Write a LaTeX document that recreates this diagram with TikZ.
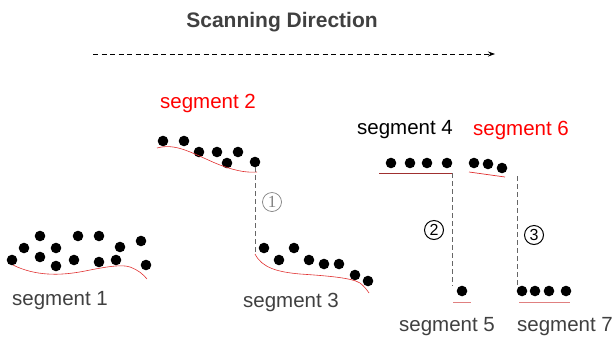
\documentclass[tikz,border=0pt]{standalone}
\usepackage{fontspec}
\setmainfont{Liberation Sans}
\newfontfamily\serifnum{Liberation Serif}
\usetikzlibrary{arrows.meta}
\definecolor{txtgray}{HTML}{404040}
\definecolor{curvered}{HTML}{E03030}
\definecolor{darkred}{HTML}{A03030}
\definecolor{lightred}{HTML}{E08080}
\tikzset{
  seglabel/.style={font=\fontsize{20.5}{24}\selectfont, text=txtgray, inner sep=0pt},
  redlabel/.style={seglabel, text=red},
  pt/.style={fill=black},
  trace/.style={curvered, line width=0.6pt},
  jump/.style={gray!80!black, dash pattern=on 5pt off 3pt, line width=0.7pt},
  stepnum/.style={draw, circle, minimum size=19pt, inner sep=0pt, line width=1pt,
    font=\fontsize{16}{18}\selectfont}
}
\begin{document}
\begin{tikzpicture}[x=1pt,y=-1pt]
\useasboundingbox (0,0) rectangle (615,341);

% title and scanning arrow
\node[font=\fontsize{21}{24}\selectfont\bfseries, text=txtgray, inner sep=0pt] (title) at (282,22) {Scanning Direction};
\coordinate (scanA) at (93,54);
\coordinate (scanB) at (495,54);
\draw[black, dash pattern=on 5pt off 3.5pt, line width=0.7pt, -{Stealth[length=7pt,width=5pt]}] (scanA) -- (scanB);

% segment 1
\foreach \x/\y in {12/260,24/248,40/236,40/257,56/248,56/266,74/260,78/236,99/236,99/262,116/260,120/247,141/241,146/265}
  \fill[pt] (\x,\y) circle (5.3);
\draw[trace] (13,265) .. controls (35,276) and (60,276) .. (85,271)
  .. controls (105,267) and (122,264) .. (130,267) .. controls (138,270) and (143,274) .. (147,279);
\node[seglabel] (s1) at (60,301) {segment 1};

% segment 2
\foreach \x/\y in {163/141,184/141,199/152,217/152,227/163,238/152,255/162}
  \fill[pt] (\x,\y) circle (5.3);
\draw[trace] (157,148) .. controls (175,143) and (190,152) .. (215,163)
  .. controls (232,170) and (245,173) .. (257,172);
\node[redlabel] (s2) at (208,103) {segment 2};

% segment 3
\foreach \x/\y in {264/248,279/260,294/248,309/260,324/264,339/264,355/275,368/281}
  \fill[pt] (\x,\y) circle (5.3);
\draw[trace] (255,254) .. controls (262,268) and (278,272) .. (300,274)
  .. controls (330,276) and (352,278) .. (360,283) .. controls (364,286) and (367,290) .. (369,293);
\node[seglabel] (s3) at (291,302) {segment 3};

% jump 1
\coordinate (j1a) at (255,167);
\coordinate (j1b) at (255,254);
\draw[jump] (j1a) -- (j1b);
\node[stepnum, draw=gray, text=gray, line width=0.7pt, font=\serifnum\fontsize{17}{19}\selectfont] (n1) at (272,202) {1};

% segment 4
\foreach \x in {391,410,427,447}
  \fill[pt] (\x,163) circle (5.3);
\coordinate (l4a) at (379,173);
\coordinate (l4b) at (452,173);
\draw[darkred, line width=0.8pt] (l4a) -- (l4b);
\node[seglabel, text=black] (s4) at (405,130) {segment 4};

% segment 6
\foreach \x/\y in {474/163,488/164,502/168}
  \fill[pt] (\x,\y) circle (5.3);
\coordinate (l6a) at (469,172);
\coordinate (l6b) at (505,177);
\draw[curvered, line width=0.7pt] (l6a) -- (l6b);
\node[redlabel] (s6) at (521,130) {segment 6};

% jump 2
\coordinate (j2b) at (452,286);
\draw[jump] (l4b) -- (j2b);
\node[stepnum] (n2) at (434,230) {2};

% segment 5
\fill[pt] (462,291) circle (5.3);
\coordinate (l5a) at (453,302);
\coordinate (l5b) at (471,302);
\draw[lightred, line width=0.9pt] (l5a) -- (l5b);
\node[seglabel] (s5) at (447,327) {segment 5};

% jump 3
\coordinate (j3a) at (517,176);
\coordinate (j3b) at (517,288);
\draw[jump] (j3a) -- (j3b);
\node[stepnum] (n3) at (534,235) {3};

% segment 7
\foreach \x in {522,535,549,566}
  \fill[pt] (\x,291) circle (5.3);
\coordinate (l7a) at (519,302);
\coordinate (l7b) at (570,302);
\draw[lightred, line width=0.9pt] (l7a) -- (l7b);
\node[seglabel] (s7) at (565,327) {segment 7};
\end{tikzpicture}
\end{document}
